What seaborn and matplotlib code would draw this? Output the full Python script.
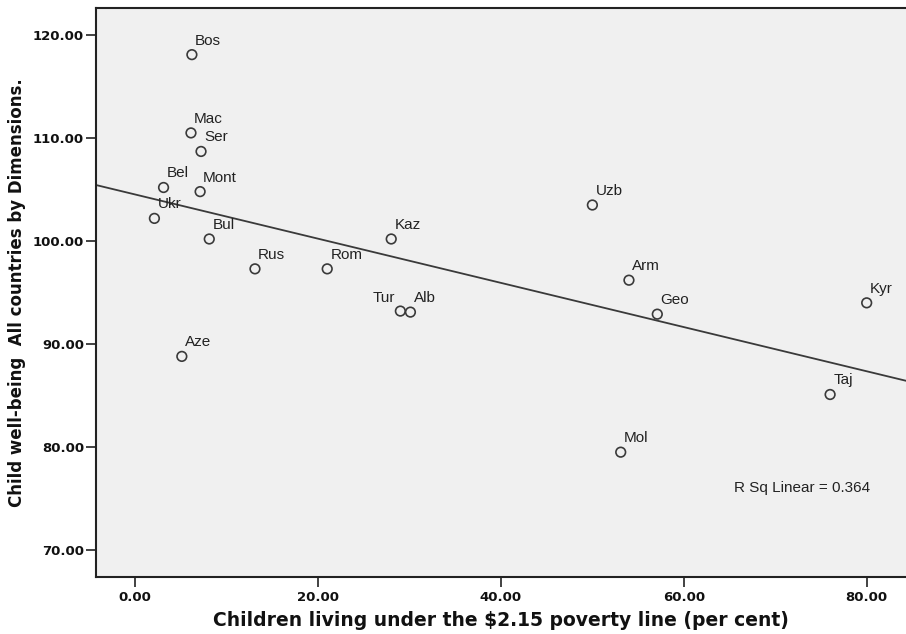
import numpy as np
import pandas as pd
import matplotlib
matplotlib.use("Agg")
import matplotlib.pyplot as plt
import seaborn as sns

# ---- data ----
countries = ["Bos", "Mac", "Ser", "Bel", "Mont", "Ukr", "Bul", "Rus", "Rom", "Kaz",
             "Tur", "Alb", "Aze", "Uzb", "Arm", "Geo", "Kyr", "Taj", "Mol"]
poverty = [6.2, 6.1, 7.2, 3.1, 7.1, 2.1, 8.1, 13.1, 21.0, 28.0,
           29.0, 30.1, 5.1, 50.0, 54.0, 57.1, 80.0, 76.0, 53.1]
wellbeing = [118.1, 110.5, 108.7, 105.2, 104.8, 102.2, 100.2, 97.3, 97.3, 100.2,
             93.2, 93.1, 88.8, 103.5, 96.2, 92.9, 94.0, 85.1, 79.5]
xticks = [0, 20, 40, 60, 80]
yticks = [70, 80, 90, 100, 110, 120]
r_sq_text = "R Sq Linear = 0.364"
xlabel = "Children living under the $2.15 poverty line (per cent)"
ylabel = "Child well-being  All countries by Dimensions."
left_labels = ["Tur"]  # labels placed to the left of their marker

df = pd.DataFrame({"country": countries, "poverty": poverty, "wellbeing": wellbeing})

sns.set_style("white")
plt.rcParams["font.family"] = ["Liberation Sans", "DejaVu Sans"]

fig = plt.figure(figsize=(9.06, 6.34), dpi=100)
ax = fig.add_axes([95.7 / 906, 1 - 577.3 / 634, (906 - 95.7) / 906, (577.3 - 8.3) / 634])
ax.set_facecolor("#f0f0f0")

ax.set_xlim(-4.32, 84.3)
ax.set_ylim(67.35, 122.6)

sns.regplot(data=df, x="poverty", y="wellbeing", ax=ax, scatter=False, ci=None,
            truncate=False, line_kws=dict(color="#3a3a3a", lw=1.3))
sns.scatterplot(data=df, x="poverty", y="wellbeing", ax=ax, marker="o", s=48,
                facecolor="none", edgecolor="#3a3a3a", linewidth=1.2, zorder=3)

for c, xv, yv in zip(countries, poverty, wellbeing):
    if c in left_labels:
        ax.annotate(c, (xv, yv), xytext=(-3.6, 6.5), textcoords="offset points",
                    ha="right", va="baseline", fontsize=11, color="#222222")
    else:
        ax.annotate(c, (xv, yv), xytext=(2.2, 7.2), textcoords="offset points",
                    ha="left", va="baseline", fontsize=11, color="#222222")

ax.text(0.7875, 0.15, r_sq_text, transform=ax.transAxes, fontsize=11,
        ha="left", va="baseline", color="#222222")

ax.set_xlim(-4.32, 84.3)
ax.set_ylim(67.35, 122.6)
ax.set_xticks(xticks)
ax.set_yticks(yticks)
ax.set_xticklabels([f"{v:.2f}" for v in xticks], fontsize=9.5, fontweight="bold",
                   family="DejaVu Sans")
ax.set_yticklabels([f"{v:.2f}" for v in yticks], fontsize=9.5, fontweight="bold",
                   family="DejaVu Sans")
ax.tick_params(axis="both", direction="out", length=7, width=1.2, color="#222222",
               left=True, bottom=True, labelcolor="#111111")
ax.tick_params(axis="y", pad=1.5)
ax.tick_params(axis="x", pad=3)

ax.set_xlabel(xlabel, fontsize=13.5, fontweight="bold", labelpad=5, color="#111111",
              family="DejaVu Sans")
ax.set_ylabel(ylabel, fontsize=12, fontweight="bold", labelpad=5, color="#111111",
              family="DejaVu Sans")

for side in ["left", "bottom", "top"]:
    ax.spines[side].set_visible(True)
    ax.spines[side].set_color("#222222")
    ax.spines[side].set_linewidth(1.5)
ax.spines["right"].set_visible(False)

fig.savefig("out.png", dpi=100, facecolor="white")
